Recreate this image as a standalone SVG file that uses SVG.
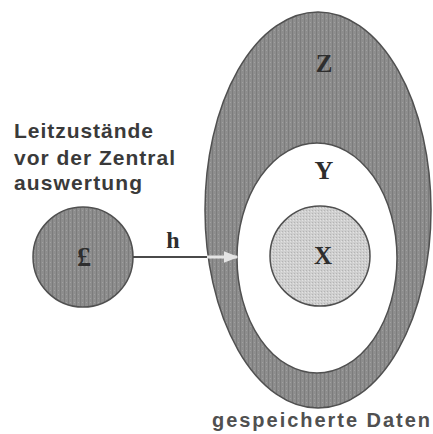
<svg xmlns="http://www.w3.org/2000/svg" width="433" height="434" viewBox="0 0 433 434">
  <style>
    .lbl { font-family: "Liberation Sans", Arial, sans-serif; font-weight: bold; fill: #3a3a3a; }
    .sym { font-family: "Liberation Serif", "Times New Roman", serif; font-weight: bold; fill: #2e2e2e; text-anchor: middle; }
    .dark { stroke: #505050; stroke-width: 1.5; }
  </style>
  <defs>
    <pattern id="tex" width="4" height="4" patternUnits="userSpaceOnUse">
      <rect width="4" height="4" fill="#8d8d8d"/>
      <rect x="0" y="0" width="1" height="4" fill="#7c7c7c"/>
      <rect x="2" y="2" width="1" height="1" fill="#a0a0a0"/>
    </pattern>
    <pattern id="texLight" width="3" height="3" patternUnits="userSpaceOnUse">
      <rect width="3" height="3" fill="#cfcfcf"/>
      <rect x="0" y="0" width="1" height="1" fill="#b4b4b4"/>
      <rect x="2" y="1" width="1" height="1" fill="#e2e2e2"/>
    </pattern>
    <marker id="ah" viewBox="0 0 10 10" refX="9" refY="5" markerWidth="5" markerHeight="5" orient="auto">
      <path d="M0,1 L10,5 L0,9 Z" fill="#e4e4e4"/>
    </marker>
  </defs>
  <rect width="433" height="434" fill="#ffffff"/>

  <g id="node-Z">
    <ellipse cx="318" cy="210" rx="113" ry="198" fill="url(#tex)" class="dark"/>
    <text class="sym" x="324" y="72" font-size="25">Z</text>
  </g>

  <g id="node-Y">
    <ellipse cx="317" cy="258" rx="80" ry="115" fill="#ffffff" class="dark"/>
    <text class="sym" x="324" y="179" font-size="26">Y</text>
  </g>

  <g id="node-X">
    <circle cx="320" cy="256" r="50" fill="url(#texLight)" class="dark"/>
    <text class="sym" x="323" y="264" font-size="25">X</text>
  </g>

  <g id="node-pound">
    <circle cx="83" cy="257" r="50" fill="url(#tex)" class="dark"/>
    <text class="sym" x="84" y="266" font-size="28">£</text>
  </g>

  <g id="connectors">
    <line x1="133" y1="257" x2="208" y2="257" stroke="#4a4a4a" stroke-width="2"/>
    <line x1="207" y1="257" x2="237" y2="257" stroke="#e4e4e4" stroke-width="3" marker-end="url(#ah)"/>
    <text class="sym" x="173" y="248" font-size="24">h</text>
  </g>

  <g id="label-left">
    <text class="lbl" x="14" y="138" font-size="21" textLength="139" lengthAdjust="spacing">Leitzustände</text>
    <text class="lbl" x="14" y="165" font-size="21" textLength="161" lengthAdjust="spacing">vor der Zentral</text>
    <text class="lbl" x="14" y="190" font-size="21" textLength="128" lengthAdjust="spacing">auswertung</text>
  </g>

  <g id="label-bottom">
    <text class="lbl" x="212" y="427" font-size="20" style="fill:#505050" textLength="218" lengthAdjust="spacing">gespeicherte Daten</text>
  </g>
</svg>
